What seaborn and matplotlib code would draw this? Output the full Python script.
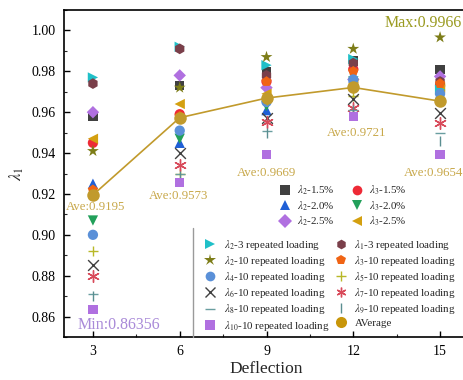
import matplotlib
matplotlib.use("Agg")
import matplotlib.pyplot as plt
import seaborn as sns
import pandas as pd
from matplotlib.lines import Line2D
from matplotlib.ticker import MultipleLocator

# ---------------- data ----------------
deflection = [3, 6, 9, 12, 15]

series_names = [
    r"$\lambda_2$-1.5%", r"$\lambda_3$-1.5%",
    r"$\lambda_2$-2.0%", r"$\lambda_3$-2.0%",
    r"$\lambda_2$-2.5%", r"$\lambda_3$-2.5%",
    r"$\lambda_2$-3 repeated loading", r"$\lambda_1$-3 repeated loading",
    r"$\lambda_2$-10 repeated loading", r"$\lambda_3$-10 repeated loading",
    r"$\lambda_4$-10 repeated loading", r"$\lambda_5$-10 repeated loading",
    r"$\lambda_6$-10 repeated loading", r"$\lambda_7$-10 repeated loading",
    r"$\lambda_8$-10 repeated loading", r"$\lambda_9$-10 repeated loading",
    r"$\lambda_{10}$-10 repeated loading",
]

l2_15 = [0.958, 0.973, 0.980, 0.985, 0.981]
l3_15 = [0.945, 0.959, 0.975, 0.981, 0.973]
l2_20 = [0.925, 0.945, 0.961, 0.977, 0.969]
l3_20 = [0.907, 0.947, 0.963, 0.975, 0.968]
l2_25 = [0.960, 0.978, 0.972, 0.976, 0.9775]
l3_25 = [0.947, 0.964, 0.969, 0.974, 0.972]
l2_r3 = [0.977, 0.992, 0.983, 0.986, 0.971]
l1_r3 = [0.974, 0.991, 0.978, 0.984, 0.975]
l2_r10 = [0.941, 0.972, 0.987, 0.991, 0.9966]
l3_r10 = [0.922, 0.958, 0.975, 0.980, 0.974]
l4_r10 = [0.900, 0.951, 0.965, 0.976, 0.969]
l5_r10 = [0.892, 0.930, 0.966, 0.968, 0.966]
l6_r10 = [0.885, 0.940, 0.957, 0.9665, 0.9595]
l7_r10 = [0.880, 0.934, 0.955, 0.962, 0.9545]
l8_r10 = [0.871, 0.930, 0.951, 0.961, 0.950]
l9_r10 = [0.870, 0.929, 0.950, 0.961, 0.946]
l10_r10 = [0.86356, 0.9257, 0.9394, 0.958, 0.9394]

average = [0.9195, 0.9573, 0.9669, 0.9721, 0.9654]
max_value = 0.9966
min_value = 0.86356

all_series = [l2_15, l3_15, l2_20, l3_20, l2_25, l3_25, l2_r3, l1_r3,
              l2_r10, l3_r10, l4_r10, l5_r10, l6_r10, l7_r10, l8_r10,
              l9_r10, l10_r10]

markers = ["s", "o", "^", "v", "D", "<", ">", "h", "*", "p", "o", "+",
           "x", (6, 2, 0), "_", "|", "s"]
colors = ["#404040", "#ee2a36", "#1f5fd6", "#22a05a", "#b070e0", "#d4a010",
          "#20c0c8", "#7a3f4a", "#7d7d18", "#f06414", "#5a90d8", "#b8b828",
          "#404040", "#d84a5a", "#6a9ea0", "#5a8e90", "#b070e0"]
sizes = [45, 55, 55, 55, 40, 55, 55, 60, 80, 60, 55, 55, 60, 70, 60, 60, 45]

# ---------------- figure ----------------
sns.set_theme(style="ticks")
plt.rcParams["font.family"] = ["Liberation Serif", "DejaVu Serif"]
plt.rcParams["mathtext.fontset"] = "stix"

fig = plt.figure(figsize=(4.64, 3.80), dpi=100)
ax = fig.add_axes([64 / 464, 43 / 380, 405 / 464, 327 / 380])

handles = []
for name, vals, m, c, s in zip(series_names, all_series, markers, colors, sizes):
    df = pd.DataFrame({"x": deflection, "y": vals})
    unfilled = m in ["+", "x", "_", "|"] or isinstance(m, tuple)
    if unfilled:
        sns.scatterplot(data=df, x="x", y="y", marker=m, color=c, s=s,
                        linewidth=1.0, ax=ax, zorder=3)
    else:
        sns.scatterplot(data=df, x="x", y="y", marker=m, color=c, s=s,
                        edgecolor="none", ax=ax, zorder=3)
    handles.append(Line2D([], [], linestyle="none", marker=m, color=c,
                          markersize=7 if m != "*" else 9,
                          markeredgewidth=1.0 if unfilled else 0,
                          label=name))

avg_df = pd.DataFrame({"x": deflection, "y": average})
sns.lineplot(data=avg_df, x="x", y="y", color="#c19a2c", linewidth=1.2,
             marker="o", markersize=9, markeredgewidth=0, ax=ax, zorder=4)
avg_handle = Line2D([], [], linestyle="none", marker="o", color="#c8960a",
                    markersize=8, markeredgewidth=0, label="AVerage")

# annotations
ave_pos = [(3.1, 0.9134), (5.95, 0.9188), (9.0, 0.9300), (12.1, 0.9497), (14.77, 0.9300)]
for (tx, ty), v in zip(ave_pos, average):
    ax.text(tx, ty, f"Ave:{v:.4f}", color="#c8a84a", fontsize=9.3,
            ha="center", va="center", zorder=5)
ax.text(14.41, 1.0034, f"Max:{max_value:.4f}", color="#9a9a20", fontsize=11.5,
        ha="center", va="center")
ax.text(3.9, 0.8557, f"Min:{min_value:.5f}", color="#a98ad8", fontsize=11.5,
        ha="center", va="center")

# axes
ax.set_xlim(2, 16)
ax.set_ylim(0.85, 1.01)
ax.set_xticks(deflection)
ax.set_yticks([0.86, 0.88, 0.90, 0.92, 0.94, 0.96, 0.98, 1.00])
ax.yaxis.set_major_formatter(matplotlib.ticker.FormatStrFormatter("%.2f"))
ax.xaxis.set_minor_locator(MultipleLocator(1.5))
ax.yaxis.set_minor_locator(MultipleLocator(0.01))
ax.tick_params(which="major", direction="in", length=4, width=1.0,
               labelsize=10, colors="black", pad=6)
ax.tick_params(which="minor", direction="in", length=2, width=0.8)
for sp in ax.spines.values():
    sp.set_visible(True)
    sp.set_linewidth(1.2)
    sp.set_color("black")
ax.set_xlabel("Deflection", fontsize=12.5, labelpad=2)
ax.set_ylabel(r"$\lambda_1$", fontsize=12, labelpad=4)


def row_major(items):
    # legend fills column by column; reorder so entries read row by row
    return items[0::2] + items[1::2]


# legends
leg1 = fig.legend(handles=row_major(handles[:6]), loc="upper left", ncol=2,
                  bbox_to_anchor=(272 / 464, 1 - 177 / 380),
                  bbox_transform=fig.transFigure, frameon=False,
                  fontsize=7.9, handletextpad=0.5, columnspacing=1.4,
                  labelspacing=0.2, borderpad=0.1, handlelength=1.2)
leg2 = fig.legend(handles=row_major(handles[6:] + [avg_handle]), loc="upper left",
                  ncol=2, bbox_to_anchor=(195 / 464, 1 - 231 / 380),
                  bbox_transform=fig.transFigure, frameon=False,
                  fontsize=7.9, handletextpad=0.4, columnspacing=0.3,
                  labelspacing=0.2, borderpad=0.1, handlelength=1.6)
fig.add_artist(Line2D([193 / 464, 193 / 464], [43 / 380, 1 - 228 / 380],
                      transform=fig.transFigure, color="#9a9a9a", linewidth=1.0))

fig.savefig("out.png", dpi=100)
